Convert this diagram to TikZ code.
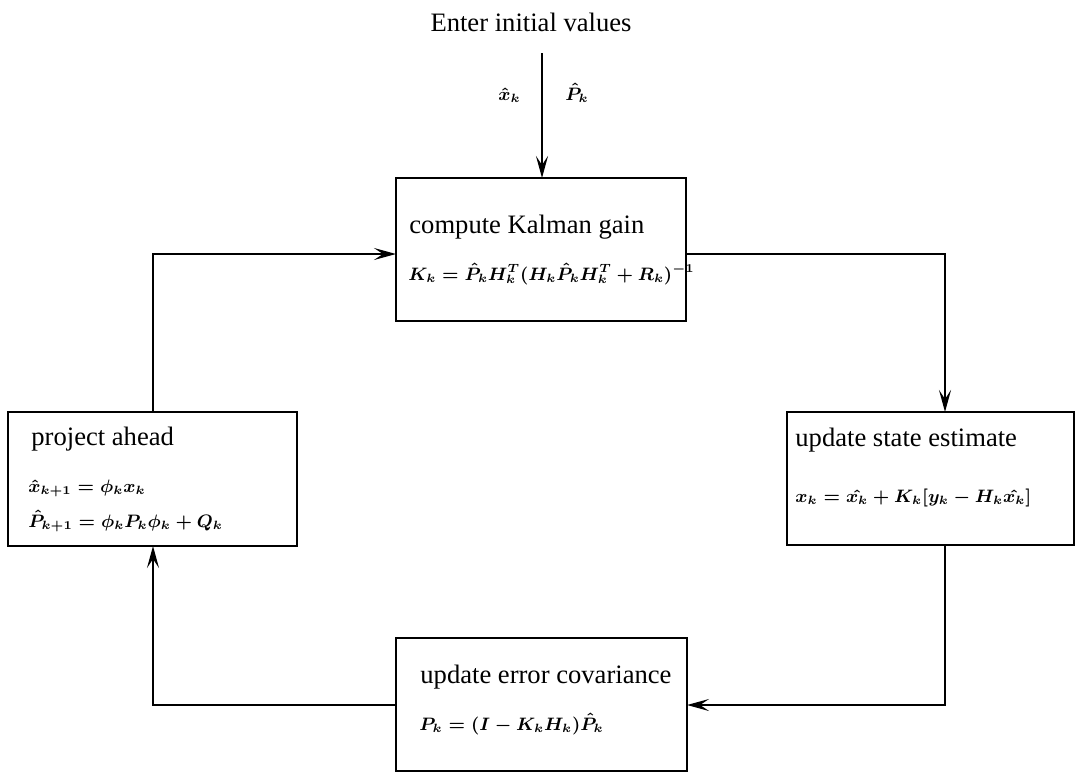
\documentclass[tikz,border=0pt]{standalone}
\usepackage{fontspec}
\setmainfont{Liberation Serif}
\usepackage{amsmath}
\usetikzlibrary{arrows.meta,fit}
\begin{document}
\begin{tikzpicture}[x=0.5pt,y=-0.5pt,
  box/.style={draw,line width=1pt,inner sep=0pt,outer sep=0pt},
  title/.style={inner sep=0pt,anchor=base west,font=\fontsize{13.3}{16}\selectfont},
  eq/.style={inner sep=0pt,anchor=base west,font=\fontsize{8.8}{11}\selectfont\boldmath},
  link/.style={line width=1pt,-{Stealth[length=11pt,width=6pt,inset=4.5pt]}}]
\useasboundingbox (0,0) rectangle (1080,776);

% the four stages of the filter loop
\node[box,fit={(396,178) (686,321)}] (kg) {};
\node[box,fit={(8,412) (297,546)}] (pa) {};
\node[box,fit={(787,412) (1074,545)}] (us) {};
\node[box,fit={(396,638) (687,771)}] (ue) {};

% stage titles and equations
\node[title] (kgt) at (409,233) {compute Kalman gain};
\node[eq] (kge) at (408,280) {$K_k = \hat P_k H_k^T (H_k \hat P_k H_k^T + R_k)^{-1}$};

\node[title] (pat) at (31,445) {project ahead};
\node[eq] (pae1) at (28,492) {$\hat x_{k+1} = \phi_k x_k$};
\node[eq] (pae2) at (28,527) {$\hat P_{k+1} = \phi_k P_k \phi_k + Q_k$};

\node[title] (ust) at (795,446) {update state estimate};
\node[eq] (use) at (795,502) {$x_k = \hat{x_k} + K_k [y_k - H_k \hat{x_k}]$};

\node[title] (uet) at (420,683) {update error covariance};
\node[eq] (uee) at (419,730) {$P_k = (I - K_k H_k) \hat P_k$};

% initial values entering the loop
\node[inner sep=0pt,anchor=base,font=\fontsize{13.3}{16}\selectfont] (init) at (531,32) {Enter initial values};
\node[eq] (xk) at (498,100) {$\hat x_k$};
\node[eq] (pk) at (565,100) {$\hat P_k$};
\coordinate (start) at (542,53);
\draw[link] (start) -- (start |- kg.north);

% loop connectors
\coordinate (top) at (153,254);
\coordinate (rgt) at (945,705);
\draw[link] (pa.north -| top) |- (kg.west |- top);
\draw[link] (kg.east |- top) -| (us.north -| rgt);
\draw[link] (us.south -| rgt) |- (ue.east |- rgt);
\draw[link] (ue.west |- rgt) -| (pa.south -| top);
\end{tikzpicture}
\end{document}
